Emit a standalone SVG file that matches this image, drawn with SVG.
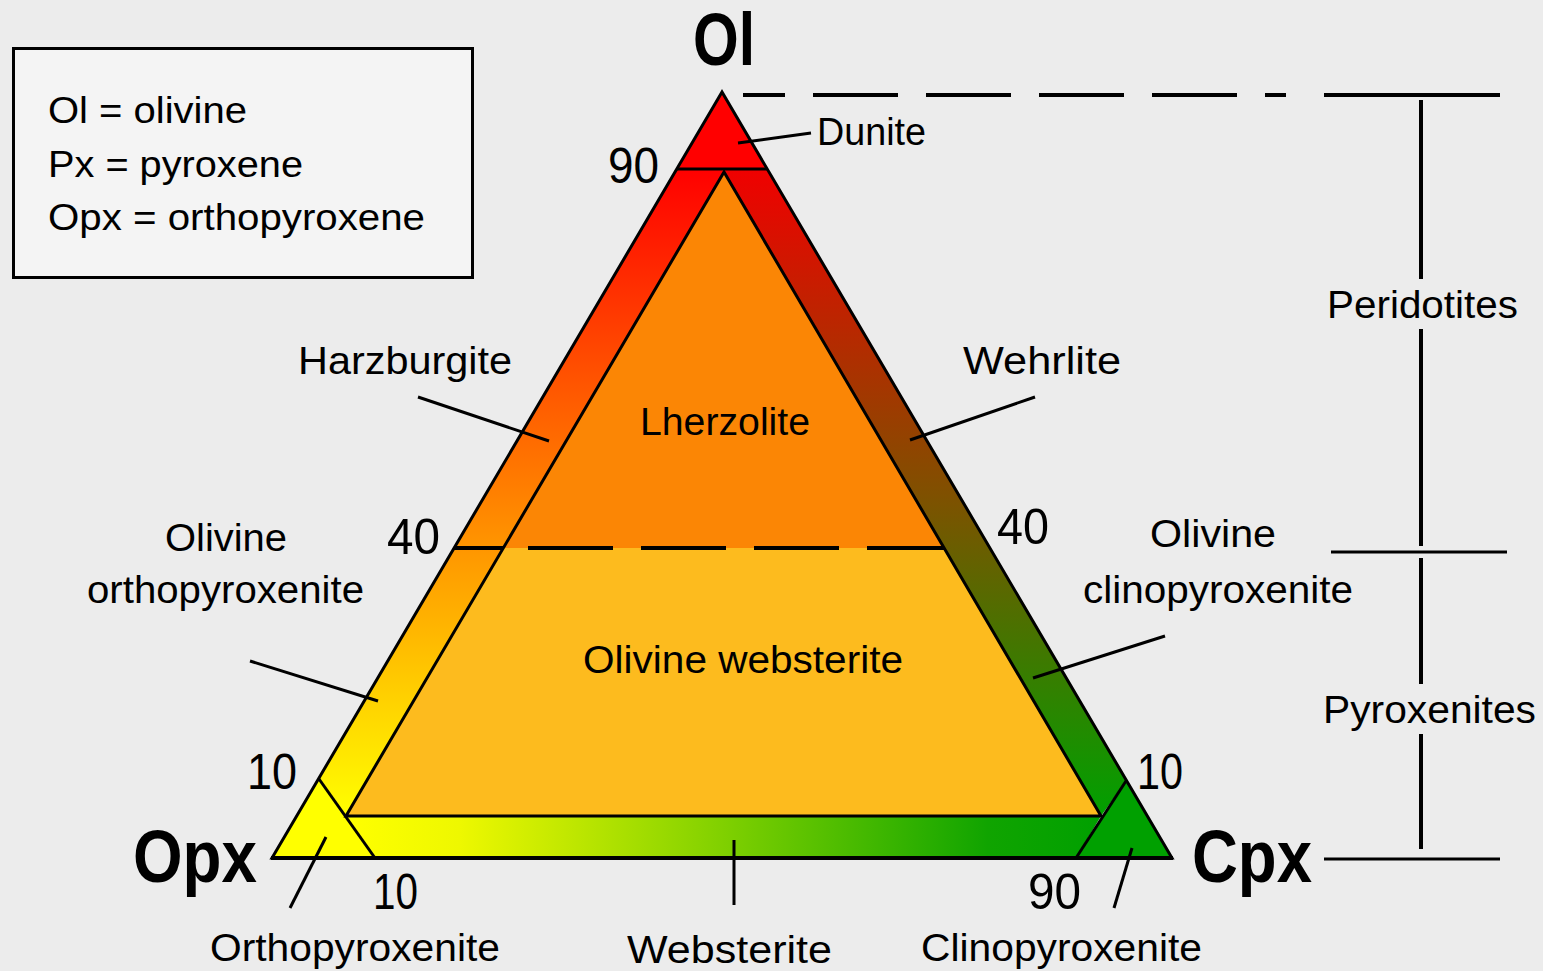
<svg xmlns="http://www.w3.org/2000/svg" width="1543" height="971" viewBox="0 0 1543 971">
<style>
.lbl{font-family:"Liberation Sans",Arial,sans-serif;font-size:38px;fill:#000}
.leg{font-family:"Liberation Sans",Arial,sans-serif;font-size:36px;fill:#000}
.num{font-family:"Liberation Sans",Arial,sans-serif;font-size:50px;fill:#000}
.big{font-family:"Liberation Sans",Arial,sans-serif;font-size:74px;font-weight:bold;fill:#000}
.ln{stroke:#000;stroke-width:3;fill:none}
.thk{stroke:#000;stroke-width:4;fill:none}
.edge{stroke:#000;stroke-width:3;fill:none;stroke-linejoin:miter}
</style>
<defs>
<linearGradient id="gLeft" gradientUnits="userSpaceOnUse" x1="0" y1="169" x2="0" y2="816">
<stop offset="0" stop-color="#ff0000"/>
<stop offset="0.5" stop-color="#ff8000"/>
<stop offset="1" stop-color="#ffff00"/>
</linearGradient>
<linearGradient id="gRight" gradientUnits="userSpaceOnUse" x1="0" y1="169" x2="0" y2="816">
<stop offset="0" stop-color="#f00000"/>
<stop offset="0.5" stop-color="#805000"/>
<stop offset="1" stop-color="#00a000"/>
</linearGradient>
<linearGradient id="gBottom" gradientUnits="userSpaceOnUse" x1="346" y1="0" x2="1101" y2="0">
<stop offset="0" stop-color="#ffff00"/>
<stop offset="0.15" stop-color="#eef800"/>
<stop offset="0.5" stop-color="#80d000"/>
<stop offset="0.85" stop-color="#10a400"/>
<stop offset="1" stop-color="#00a000"/>
</linearGradient>
</defs>
<rect x="0" y="0" width="1543" height="971" fill="#ececec"/>

<g id="legend">
<rect x="13.5" y="48.5" width="459" height="229" fill="#f4f4f4" stroke="#000" stroke-width="3"/>
<text class="leg" x="48" y="123" textLength="199" lengthAdjust="spacingAndGlyphs">Ol = olivine</text>
<text class="leg" x="48" y="177" textLength="255" lengthAdjust="spacingAndGlyphs">Px = pyroxene</text>
<text class="leg" x="48" y="230" textLength="377" lengthAdjust="spacingAndGlyphs">Opx = orthopyroxene</text>
</g>

<g id="dunite">
<polygon points="722,92 677,169 767,169" fill="#ff0000"/>
</g>
<g id="harzburgite-olivine-orthopyroxenite">
<polygon points="677,169 722,169 724,172 346,816 319,779" fill="url(#gLeft)"/>
</g>
<g id="wehrlite-olivine-clinopyroxenite">
<polygon points="722,169 767,169 1126,781 1101,816 724,172" fill="url(#gRight)"/>
</g>
<g id="websterite">
<polygon points="346,816 1101,816 1076,858 375,858" fill="url(#gBottom)"/>
</g>
<g id="orthopyroxenite">
<polygon points="272,858 319,779 375,858" fill="#ffff00"/>
</g>
<g id="clinopyroxenite">
<polygon points="1076,858 1126,781 1172,858" fill="#00a000"/>
</g>
<g id="lherzolite">
<polygon points="724,172 503,548 944,548" fill="#fb8605"/>
<text class="lbl" x="640" y="435" textLength="170" lengthAdjust="spacingAndGlyphs">Lherzolite</text>
</g>
<g id="olivine-websterite">
<polygon points="503,548 944,548 1101,816 346,816" fill="#fdbb1e"/>
<text class="lbl" x="583" y="673" textLength="320" lengthAdjust="spacingAndGlyphs">Olivine websterite</text>
</g>

<g id="frame">
<polygon class="edge" points="722,92 272,858 1172,858"/>
<polygon class="edge" points="724,172 346,816 1101,816"/>
<line class="ln" x1="677" y1="169" x2="767" y2="169"/>
<line class="ln" x1="319" y1="779" x2="375" y2="858"/>
<line class="ln" x1="1126" y1="781" x2="1076" y2="858"/>
<line class="thk" x1="271" y1="858" x2="1173" y2="858"/>
<line class="thk" x1="454" y1="548" x2="503" y2="548"/>
<line class="thk" x1="528" y1="548" x2="944" y2="548" stroke-dasharray="85,28"/>
</g>

<g id="vertex-labels">
<text class="big" x="693" y="65" textLength="62" lengthAdjust="spacingAndGlyphs">Ol</text>
<text class="big" x="133" y="882" textLength="124" lengthAdjust="spacingAndGlyphs">Opx</text>
<text class="big" x="1192" y="882" textLength="120" lengthAdjust="spacingAndGlyphs">Cpx</text>
</g>

<g id="ticks">
<text class="num" x="608" y="183" textLength="51" lengthAdjust="spacingAndGlyphs">90</text>
<text class="num" x="387" y="554" textLength="53" lengthAdjust="spacingAndGlyphs">40</text>
<text class="num" x="997" y="544" textLength="52" lengthAdjust="spacingAndGlyphs">40</text>
<text class="num" x="247" y="789" textLength="50" lengthAdjust="spacingAndGlyphs">10</text>
<text class="num" x="1137" y="789" textLength="46" lengthAdjust="spacingAndGlyphs">10</text>
<text class="num" x="373" y="909" textLength="45" lengthAdjust="spacingAndGlyphs">10</text>
<text class="num" x="1028" y="909" textLength="53" lengthAdjust="spacingAndGlyphs">90</text>
</g>

<g id="labels">
<text class="lbl" x="817" y="145" textLength="109" lengthAdjust="spacingAndGlyphs">Dunite</text>
<text class="lbl" x="298" y="374" textLength="214" lengthAdjust="spacingAndGlyphs">Harzburgite</text>
<text class="lbl" x="963" y="374" textLength="158" lengthAdjust="spacingAndGlyphs">Wehrlite</text>
<text class="lbl" x="165" y="551" textLength="122" lengthAdjust="spacingAndGlyphs">Olivine</text>
<text class="lbl" x="87" y="603" textLength="277" lengthAdjust="spacingAndGlyphs">orthopyroxenite</text>
<text class="lbl" x="1150" y="547" textLength="126" lengthAdjust="spacingAndGlyphs">Olivine</text>
<text class="lbl" x="1083" y="603" textLength="270" lengthAdjust="spacingAndGlyphs">clinopyroxenite</text>
<text class="lbl" x="210" y="961" textLength="290" lengthAdjust="spacingAndGlyphs">Orthopyroxenite</text>
<text class="lbl" x="627" y="963" textLength="205" lengthAdjust="spacingAndGlyphs">Websterite</text>
<text class="lbl" x="921" y="961" textLength="281" lengthAdjust="spacingAndGlyphs">Clinopyroxenite</text>
</g>

<g id="connectors">
<line class="ln" x1="738" y1="143" x2="811" y2="133"/>
<line class="ln" x1="418" y1="397" x2="549" y2="441"/>
<line class="ln" x1="1035" y1="397" x2="910" y2="440"/>
<line class="ln" x1="250" y1="661" x2="378" y2="701"/>
<line class="ln" x1="1165" y1="636" x2="1033" y2="678"/>
<line class="ln" x1="290" y1="908" x2="326" y2="837"/>
<line class="ln" x1="734" y1="840" x2="734" y2="905"/>
<line class="ln" x1="1114" y1="908" x2="1132" y2="848"/>
</g>

<g id="scale">
<line class="thk" x1="743" y1="95" x2="1290" y2="95" stroke-dasharray="42,28,85,28,85,28,85,28,85,28,21,35"/>
<line class="thk" x1="1324" y1="95" x2="1500" y2="95"/>
<line class="thk" x1="1421" y1="100" x2="1421" y2="279"/>
<line class="thk" x1="1421" y1="329" x2="1421" y2="546"/>
<line class="ln" x1="1331" y1="552" x2="1507" y2="552"/>
<line class="thk" x1="1421" y1="558" x2="1421" y2="684"/>
<line class="thk" x1="1421" y1="734" x2="1421" y2="849"/>
<line class="ln" x1="1324" y1="859" x2="1500" y2="859"/>
<text class="lbl" x="1327" y="318" textLength="191" lengthAdjust="spacingAndGlyphs">Peridotites</text>
<text class="lbl" x="1323" y="723" textLength="213" lengthAdjust="spacingAndGlyphs">Pyroxenites</text>
</g>
</svg>
